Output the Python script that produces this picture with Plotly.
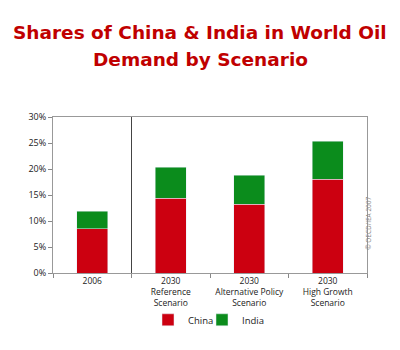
import plotly.graph_objects as go

categories = ["2006", "2030<br>Reference<br>Scenario", "2030<br>Alternative Policy<br>Scenario", "2030<br>High Growth<br>Scenario"]
china = [8.5, 14.4, 13.2, 18.0]
india = [3.4, 5.9, 5.6, 7.3]
y_ticks = [0, 5, 10, 15, 20, 25, 30]
y_labels = [f"{v}%" for v in y_ticks]
title_lines = ["Shares of China & India in World Oil", "Demand by Scenario"]

fig = go.Figure()
fig.add_bar(x=categories, y=china, name="China", marker_color="#cc0010", width=0.4,
            legend="legend", showlegend=True)
fig.add_bar(x=categories, y=india, name="India", marker_color="#0b8c1c", width=0.4,
            legend="legend2", showlegend=True)

leg_common = dict(orientation="h", yanchor="middle", y=-0.30, xanchor="left",
                  bgcolor="rgba(0,0,0,0)", font=dict(size=9.5), itemwidth=30)
fig.update_layout(
    barmode="stack",
    showlegend=True,
    width=400, height=350,
    margin=dict(l=53, r=33, t=117, b=77),
    paper_bgcolor="white", plot_bgcolor="white",
    font=dict(family="Open Sans, Liberation Sans, sans-serif", size=9, color="#222"),
    legend=dict(leg_common, x=(148 - 53) / 314),
    legend2=dict(leg_common, x=(202 - 53) / 314),
    bargap=0.6,
)
for i, (line, ypx) in enumerate(zip(title_lines, [33, 60])):
    fig.add_annotation(text=line, xref="paper", yref="paper", x=(200 - 53) / 314,
                       y=(273 - ypx) / 156, xanchor="center", yanchor="middle", showarrow=False,
                       font=dict(family="DejaVu Sans", size=18.5, color="#c00000", weight="bold"))
fig.update_xaxes(type="category", tickson="boundaries", ticks="outside", ticklen=4, tickangle=0,
                 tickcolor="#888", showline=True, linecolor="#999", linewidth=1, mirror=True,
                 showgrid=False, tickfont=dict(size=8.5, color="#222"))
fig.update_yaxes(range=[0, 30], tickvals=y_ticks, ticktext=y_labels, ticks="outside", ticklen=4,
                 tickcolor="#888", showline=True, linecolor="#999", linewidth=1, mirror=True,
                 showgrid=False, zeroline=False, tickfont=dict(size=9, color="#222"))
fig.add_shape(type="line", xref="x", yref="paper", x0=0.5, x1=0.5, y0=0, y1=1,
              line=dict(color="#444", width=1))
fig.add_annotation(text="© OECD/IEA 2007", textangle=-90, xref="paper", yref="paper",
                   x=1.025, y=0.135, showarrow=False, font=dict(size=6.5, color="#888"))

fig.write_html("out.html")
